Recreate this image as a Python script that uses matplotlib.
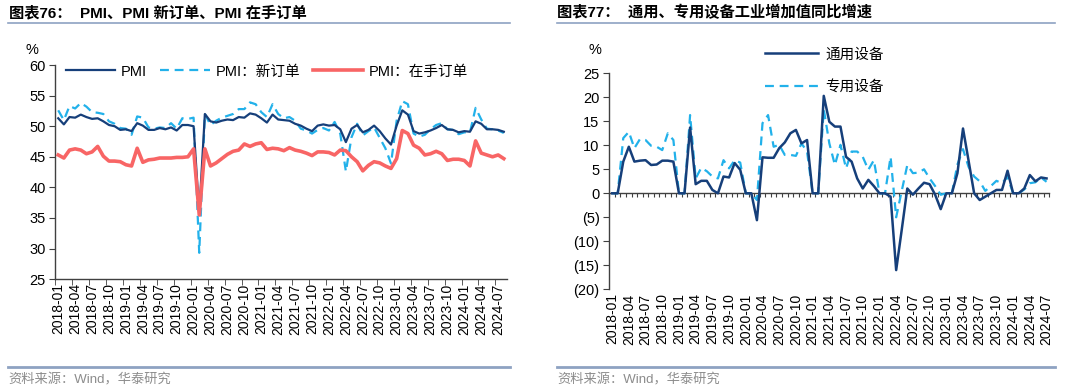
import matplotlib
matplotlib.use('Agg')
import matplotlib.pyplot as plt
import numpy as np
import pandas as pd
from matplotlib.lines import Line2D

plt.rcParams['font.family'] = ['Liberation Sans', 'Noto Sans CJK SC', 'DejaVu Sans']

NAVY = '#163f7a'
CYAN = '#22b1ea'
RED = '#f86565'
AXIS = '#404040'
RULE = '#8ea2c2'

# left chart: monthly 2018-01 .. 2024-08
months_left = pd.period_range('2018-01', '2024-08', freq='M').strftime('%Y-%m').tolist()
pmi = [51.3, 50.3, 51.5, 51.4, 51.9, 51.5, 51.2, 51.3, 50.8, 50.2, 50.0, 49.4,
       49.5, 49.2, 50.5, 50.1, 49.4, 49.4, 49.7, 49.5, 49.8, 49.3, 50.2, 50.2,
       50.0, 35.7, 52.0, 50.8, 50.6, 50.9, 51.1, 51.0, 51.5, 51.4, 52.1, 51.9,
       51.3, 50.6, 51.9, 51.1, 51.0, 50.9, 50.4, 50.1, 49.6, 49.2, 50.1, 50.3,
       50.1, 50.2, 49.5, 47.4, 49.6, 50.2, 49.0, 49.4, 50.1, 49.2, 48.0, 47.0,
       50.1, 52.6, 51.9, 49.2, 48.8, 49.0, 49.3, 49.7, 50.2, 49.5, 49.4, 49.0,
       49.2, 49.1, 50.8, 50.4, 49.5, 49.5, 49.4, 49.1]
pmi_new_orders = [52.6, 51.0, 53.3, 52.9, 53.8, 53.2, 52.3, 52.2, 52.0, 50.8, 50.4, 49.7,
                  49.6, 48.6, 51.6, 51.4, 49.8, 49.6, 49.8, 49.7, 50.5, 49.6, 51.3, 51.2,
                  51.4, 29.3, 52.0, 50.2, 50.9, 51.4, 51.7, 52.0, 52.8, 52.8, 53.9, 53.6,
                  52.3, 51.5, 53.6, 52.0, 51.3, 51.5, 50.9, 49.6, 49.3, 48.8, 49.4, 49.7,
                  49.3, 50.7, 48.8, 42.6, 48.2, 50.4, 48.5, 49.2, 49.8, 48.1, 46.4, 43.9,
                  50.9, 54.1, 53.6, 48.8, 48.3, 48.6, 49.5, 50.2, 50.5, 49.5, 49.4, 48.7,
                  49.0, 49.0, 53.0, 51.1, 49.6, 49.5, 49.3, 48.9]
pmi_backlog = [45.3, 44.8, 46.1, 46.3, 46.1, 45.5, 45.8, 46.7, 45.1, 44.3, 44.3, 44.2,
               43.7, 43.5, 46.4, 44.1, 44.5, 44.6, 44.8, 44.8, 44.8, 44.9, 44.9, 45.0,
               46.3, 35.5, 46.3, 43.5, 44.0, 44.7, 45.4, 45.9, 46.1, 47.1, 46.7, 47.1,
               47.3, 46.2, 46.4, 46.3, 46.0, 46.5, 46.1, 45.9, 45.6, 45.2, 45.8, 45.8,
               45.7, 45.3, 46.1, 46.0, 45.0, 44.2, 42.7, 43.6, 44.2, 44.0, 43.5, 43.1,
               44.7, 49.3, 48.8, 46.9, 46.4, 45.3, 45.5, 45.9, 45.5, 44.4, 44.6, 44.6,
               44.4, 43.5, 47.6, 45.6, 45.3, 45.0, 45.3, 44.7]

# right chart: monthly 2018-01 .. 2024-07, y/y %
months_right = pd.period_range('2018-01', '2024-07', freq='M').strftime('%Y-%m').tolist()
general_equip = [0, 0, 6.6, 9.7, 6.6, 6.8, 6.9, 5.9, 6.0, 6.8, 6.8, 6.6,
                 0, 0, 13.7, 1.9, 2.6, 2.6, 0.7, 0.0, 3.5, 3.3, 6.3, 4.9,
                 0, 0, -5.6, 7.5, 7.4, 7.4, 9.4, 10.6, 12.5, 13.2, 10.4, 11.1,
                 0, 0, 20.3, 14.9, 13.9, 13.9, 7.6, 6.6, 3.1, 1.0, 2.8, 1.5,
                 0, 0, -0.7, -16.0, -7.6, 1.0, -0.3, 1.0, 2.2, 1.9, -0.3, -3.3,
                 0, 0, 4.2, 13.5, 6.8, 0.0, -1.4, -0.7, 0.0, 0.7, 0.7, 4.7,
                 0, 0, 1.0, 3.8, 2.5, 3.3, 3.1]
special_equip = [0, 0, 11.5, 12.8, 9.4, 11.3, 11.1, 9.9, 9.7, 9.0, 12.5, 11.1,
                 0, 0, 16.3, 3.1, 5.3, 4.6, 3.5, 3.1, 6.9, 5.2, 6.9, 6.4,
                 0, 0, -1.4, 14.6, 16.3, 9.7, 10.1, 8.0, 8.0, 7.8, 10.4, 8.7,
                 0, 0, 17.5, 10.4, 5.9, 10.1, 5.2, 8.7, 8.7, 7.6, 4.9, 6.9,
                 0, 0, 7.6, -5.0, 0.5, 5.9, 4.2, 4.3, 5.0, 3.1, 1.5, -0.3,
                 0, 0, 6.0, 9.2, 5.5, 3.5, 2.5, 0.5, 1.5, 2.6, 2.1, 3.4,
                 0, 0, 0.8, 2.1, 2.3, 3.3, 2.4]


def styleAxis(ax):
    for side in ['top', 'right']:
        ax.spines[side].set_visible(False)
    for side in ['left', 'bottom']:
        ax.spines[side].set_color(AXIS)
        ax.spines[side].set_linewidth(1.0)
    ax.tick_params(axis='y', direction='out', length=4, color=AXIS, labelsize=10.5, pad=3)
    ax.tick_params(axis='x', which='major', length=0, labelsize=10, pad=3, rotation=90)


fig = plt.figure(figsize=(10.8, 3.92), dpi=100)

# ---- left: PMI
axL = fig.add_axes([0.0513, 0.288, 0.4178, 0.546])
xl = np.arange(len(months_left))
axL.plot(xl, pmi, color=NAVY, lw=1.6, label='PMI', zorder=3)
axL.plot(xl, pmi_new_orders, color=CYAN, lw=1.6, ls=(0, (4, 2.6)), label='PMI：新订单', zorder=2)
axL.plot(xl, pmi_backlog, color=RED, lw=2.6, label='PMI：在手订单', zorder=4)
axL.set_xlim(-0.5, len(months_left) - 0.5)
axL.set_ylim(25, 60)
axL.set_yticks(range(25, 61, 5))
axL.set_xticks(xl[::3], [months_left[i] for i in xl[::3]])
axL.set_xticks(np.arange(-0.5, len(months_left), 3), minor=True)
styleAxis(axL)
axL.tick_params(axis='x', which='minor', direction='out', length=4, color=AXIS)
axL.legend(loc='upper left', bbox_to_anchor=(0.0, 1.05), ncol=3, frameon=False, fontsize=10.5,
           handlelength=3.4, handletextpad=0.4, columnspacing=0.9, borderaxespad=0.3)

# ---- right: equipment value added
axR = fig.add_axes([0.5642, 0.262, 0.4074, 0.551])
xr = np.arange(len(months_right))
axR.plot(xr, general_equip, color=NAVY, lw=1.8, label='通用设备', zorder=3)
axR.plot(xr, special_equip, color=CYAN, lw=1.6, ls=(0, (4, 2.6)), label='专用设备', zorder=2)
axR.set_xlim(-0.5, len(months_right) - 0.5)
ymin, ymax = -20, 25
axR.set_ylim(ymin, ymax)
yt = list(range(ymin, ymax + 1, 5))
axR.set_yticks(yt, [f'({-v})' if v < 0 else str(v) for v in yt])
axR.set_xticks(xr[::3], [months_right[i] for i in xr[::3]])
styleAxis(axR)
axR.spines['bottom'].set_visible(False)
zero = axR.secondary_xaxis((0 - ymin) / (ymax - ymin))
zero.set_xticks(np.arange(-0.5, len(months_right), 1))
zero.tick_params(direction='out', length=3, color=AXIS, labelbottom=False)
zero.spines['bottom'].set_color(AXIS)
zero.spines['bottom'].set_linewidth(1.0)
axR.legend(loc='upper left', bbox_to_anchor=(0.325, 1.18), ncol=1, frameon=False, fontsize=10.5,
           handlelength=3.6, handletextpad=0.5, labelspacing=1.25)

# ---- titles, units, source notes
fig.text(0.008, 0.967, '图表76：  PMI、PMI 新订单、PMI 在手订单', fontsize=11, fontweight='bold', va='center')
fig.text(0.516, 0.967, '图表77：  通用、专用设备工业增加值同比增速', fontsize=11, fontweight='bold', va='center')
fig.text(0.030, 0.872, '%', fontsize=10.5, ha='center', va='center')
fig.text(0.551, 0.872, '%', fontsize=10.5, ha='center', va='center')
for x0, x1 in [(0.0074, 0.472), (0.5157, 0.977)]:
    fig.add_artist(Line2D([x0, x1], [0.941, 0.941], color=RULE, lw=1.2))
    fig.add_artist(Line2D([x0, x1], [0.064, 0.064], color=RULE, lw=2.0))
fig.text(0.008, 0.030, '资料来源：Wind，华泰研究', fontsize=9.5, color='#8c8c8c', va='center')
fig.text(0.516, 0.030, '资料来源：Wind，华泰研究', fontsize=9.5, color='#8c8c8c', va='center')

fig.savefig('out.png', dpi=100)
